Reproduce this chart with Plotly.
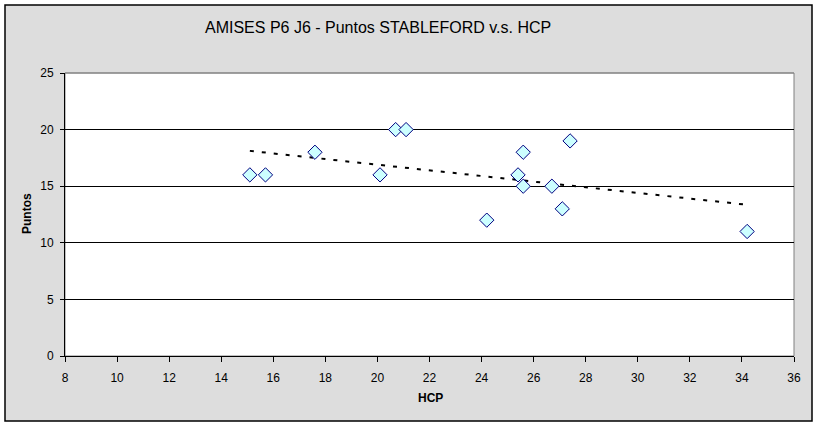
import numpy as np
import plotly.graph_objects as go

hcp = [15.1, 15.7, 17.6, 20.1, 20.7, 21.1, 24.2, 25.4, 25.6, 25.6, 26.7, 27.1, 27.4, 34.2]
puntos = [16, 16, 18, 16, 20, 20, 12, 16, 18, 15, 15, 13, 19, 11]
x_ticks = list(range(8, 37, 2))
y_ticks = [0, 5, 10, 15, 20, 25]
title_text = "AMISES P6 J6 - Puntos STABLEFORD v.s. HCP"

W, H = 817, 426
L, R, T, B = 65, 794, 73, 356
pw, ph = R - L, B - T

def px(xp):
    return (xp - L) / pw

def py(yp):
    return (B - yp) / ph

slope, intercept = np.polyfit(hcp, puntos, 1)
tx = np.array([min(hcp), max(hcp)])
ty = slope * tx + intercept

FONT = "Liberation Sans, Arial, sans-serif"

fig = go.Figure()
fig.add_trace(go.Scatter(
    x=tx, y=ty, mode="lines",
    line=dict(color="black", width=2, dash="4px,8px"),
    hoverinfo="skip", showlegend=False))
fig.add_trace(go.Scatter(
    x=hcp, y=puntos, mode="markers",
    marker=dict(symbol="diamond", size=11, color="#CCFFFF",
                line=dict(color="#000080", width=1)),
    showlegend=False))

shapes = [
    dict(type="rect", xref="paper", yref="paper",
         x0=px(5), x1=px(812), y0=py(421), y1=py(5),
         fillcolor="#DDDDDD", line=dict(color="black", width=1.5), layer="below"),
    dict(type="rect", xref="paper", yref="paper",
         x0=0, x1=1, y0=0, y1=1,
         fillcolor="white", line=dict(color="#808080", width=1), layer="below"),
    dict(type="line", xref="paper", yref="paper",
         x0=0, x1=1, y0=1, y1=1,
         line=dict(color="#808080", width=1), layer="above"),
]

fig.update_layout(
    width=W, height=H,
    margin=dict(l=L, r=W - R, t=T, b=H - B, pad=0),
    paper_bgcolor="white", plot_bgcolor="rgba(0,0,0,0)",
    font=dict(family=FONT, size=12, color="black"),
    shapes=shapes,
    annotations=[
        dict(text=title_text, xref="paper", yref="paper",
             x=px(378), y=py(28), xanchor="center", yanchor="middle",
             showarrow=False, font=dict(size=16, family=FONT)),
        dict(text="<b>HCP</b>", xref="paper", yref="paper",
             x=px(430), y=py(398), xanchor="center", yanchor="middle",
             showarrow=False, font=dict(size=12, family=FONT)),
        dict(text="<b>Puntos</b>", xref="paper", yref="paper",
             x=px(27), y=py(214), xanchor="center", yanchor="middle",
             textangle=-90, showarrow=False, font=dict(size=12, family=FONT)),
    ],
    xaxis=dict(range=[8, 36], tickvals=x_ticks, ticktext=[str(v) for v in x_ticks],
               showgrid=False, zeroline=False, showline=True, linecolor="black",
               linewidth=1, ticks="outside", ticklen=5, tickcolor="black",
               ticklabelstandoff=6, fixedrange=True),
    yaxis=dict(range=[0, 25], tickvals=y_ticks, ticktext=[str(v) for v in y_ticks],
               showgrid=True, gridcolor="black", gridwidth=1, zeroline=False,
               showline=True, linecolor="black", linewidth=1,
               ticks="outside", ticklen=4, tickcolor="black",
               ticklabelstandoff=4, fixedrange=True),
)

fig.write_html("out.html", config={"displayModeBar": False},
               post_script="document.body.style.margin='0';document.body.style.overflow='hidden';")
